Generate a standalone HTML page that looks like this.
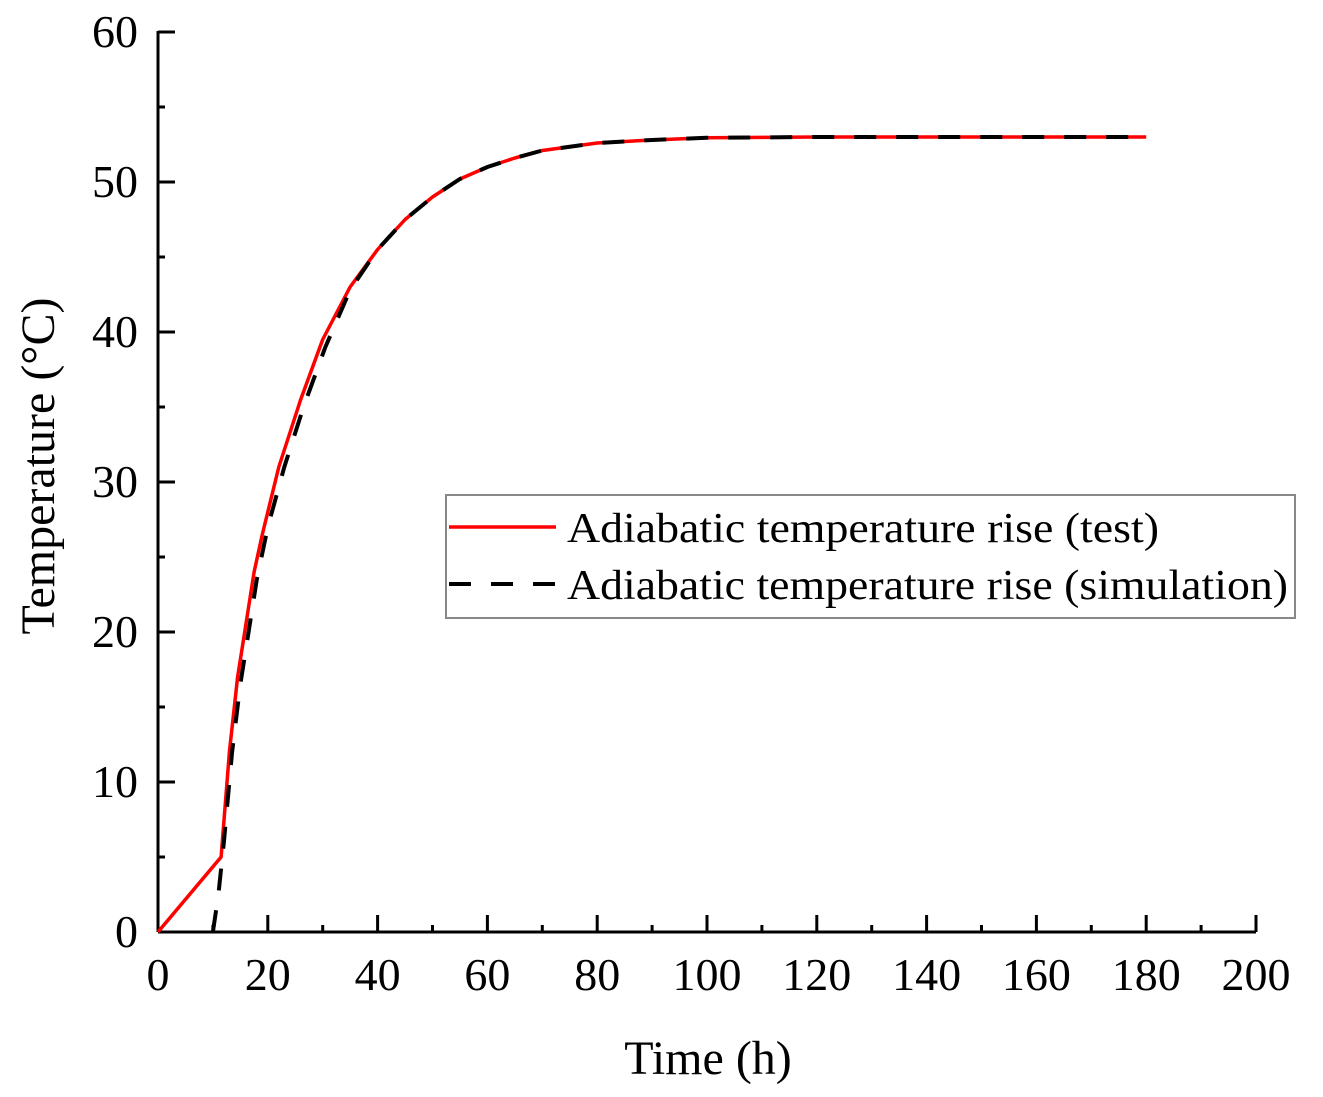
<!DOCTYPE html>
<html><head><meta charset="utf-8"><style>
html,body{margin:0;padding:0;background:#fff;}
svg{display:block;font-family:"Liberation Serif",serif;}
</style></head><body>
<svg id="chart" width="1323" height="1097" viewBox="0 0 1323 1097" xmlns="http://www.w3.org/2000/svg">
<g id="axes"></g>
<g id="series"></g>
<text x="708" y="1074" font-size="48" text-anchor="middle">Time (h)</text>
<text transform="translate(54,466) rotate(-90)" font-size="48" text-anchor="middle">Temperature (°C)</text>
<g>
<rect x="446" y="495" width="849" height="123" fill="#fff" stroke="#888" stroke-width="2"/>
<line x1="449" y1="527" x2="556" y2="527" stroke="#f00" stroke-width="3.5"/>
<text x="567" y="542" font-size="42" textLength="592" lengthAdjust="spacingAndGlyphs">Adiabatic temperature rise (test)</text>
<line x1="449" y1="584" x2="556" y2="584" stroke="#000" stroke-width="4" stroke-dasharray="22,20"/>
<text x="567" y="599" font-size="42" textLength="721" lengthAdjust="spacingAndGlyphs">Adiabatic temperature rise (simulation)</text>
</g>
</svg>
<script>
const xTicks=[0,20,40,60,80,100,120,140,160,180,200];
const yTicks=[0,10,20,30,40,50,60];
const testTime=[0,11.5,13,14.5,15.8,17.5,19,22,26,30,35,40,45,50,55,60,65,70,80,90,100,120,180];
const testTemp=[0,5,12,17,20,24,26.5,31,35.5,39.5,43,45.5,47.5,49,50.2,51,51.6,52.1,52.6,52.8,52.95,53,53];
const simTime=[10,11,12,13.5,15,16.5,18,20,23,26.5,30.5,35,40,45,50,55,60,65,70,80,90,100,120,180];
const simTemp=[0,2.5,6,12,16.5,20,23.5,27,31,35,39,42.8,45.5,47.5,49,50.2,51,51.6,52.1,52.6,52.8,52.95,53,53];
const X=v=>158+v*(1256-158)/200;
const Y=v=>932-v*(932-32)/60;
const NS='http://www.w3.org/2000/svg';
function mk(tag,attrs,parent){const e=document.createElementNS(NS,tag);for(const k in attrs)e.setAttribute(k,attrs[k]);parent.appendChild(e);return e;}
const ax=document.getElementById('axes');
let l=mk('line',{x1:158,y1:932,x2:1256,y2:932,stroke:'#000','stroke-width':3},ax);


l=mk('line',{x1:158,y1:932,x2:158,y2:31,stroke:'#000','stroke-width':3},ax);


for(let i=0;i<xTicks.length;i++){
 const v=xTicks[i];
 let t=mk('line',{x1:X(v),y1:932,x2:X(v),y2:915,stroke:'#000','stroke-width':3},ax);
 
 
 if(i<xTicks.length-1){
  const m=(v+xTicks[i+1])/2;
  let mt=mk('line',{x1:X(m),y1:932,x2:X(m),y2:925,stroke:'#000','stroke-width':3},ax);
  
  
 }
 let tx=mk('text',{x:X(v),y:990,'font-size':46,'text-anchor':'middle'},ax);
 tx.textContent=v;
 
 
}
for(let i=0;i<yTicks.length;i++){
 const v=yTicks[i];
 let t=mk('line',{x1:158,y1:Y(v),x2:175,y2:Y(v),stroke:'#000','stroke-width':3},ax);
 
 
 if(i<yTicks.length-1){
  const m=(v+yTicks[i+1])/2;
  let mt=mk('line',{x1:158,y1:Y(m),x2:165,y2:Y(m),stroke:'#000','stroke-width':3},ax);
  
  
 }
 let tx=mk('text',{x:138,y:Y(v)+15,'font-size':46,'text-anchor':'end'},ax);
 tx.textContent=v;
 
 
}
const sg=document.getElementById('series');
const pts=(xs,ys)=>xs.map((x,i)=>X(x).toFixed(1)+','+Y(ys[i]).toFixed(1)).join(' ');
let p=mk('polyline',{points:pts(testTime,testTemp),fill:'none',stroke:'#f00','stroke-width':3.5,'stroke-linejoin':'round'},sg);


p=mk('polyline',{points:pts(simTime,simTemp),fill:'none',stroke:'#000','stroke-width':4,'stroke-dasharray':'22,20'},sg);


</script>
</body></html>
